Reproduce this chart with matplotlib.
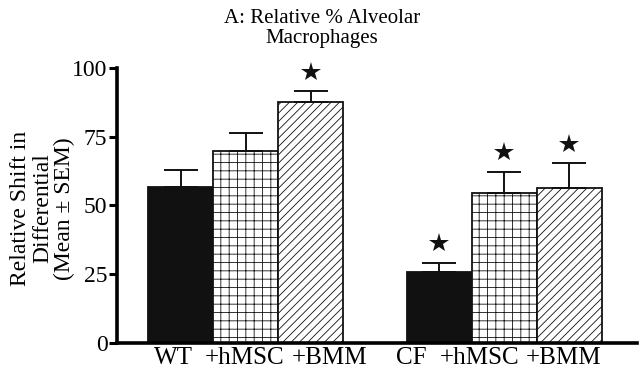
import matplotlib.pyplot as plt
import numpy as np

plt.rcParams['font.family'] = ['Liberation Serif', 'DejaVu Serif']
plt.rcParams['hatch.linewidth'] = 0.6

# Data
labels = ['WT', '+hMSC', '+BMM', 'CF', '+hMSC', '+BMM']
means = [56.7, 69.8, 87.6, 25.9, 54.4, 56.2]
sem = [6.3, 6.6, 4.0, 3.3, 7.9, 9.1]
significant = [False, False, True, True, True, True]
hatches = ['', '++', '////', '', '++', '////']
faces = ['#111111', 'white', 'white', '#111111', 'white', 'white']

# bar positions (two groups of three) and label shifts as in the original
xpos = np.array([0, 1, 2, 3.98, 4.98, 5.98])
label_shift = np.array([-0.11, -0.02, 0.29, -0.43, -0.38, -0.08])

fig = plt.figure(figsize=(6.4, 3.76), dpi=100)
ax = fig.add_axes([0.183, 0.088, 0.812, 0.731])

ax.bar(xpos, means, width=1.0, color=faces, edgecolor='#111111',
       linewidth=1.3, hatch=hatches)

# upper error bars only
ax.errorbar(xpos, means, yerr=[np.zeros(len(sem)), sem], fmt='none',
            ecolor='#111111', elinewidth=1.4, capsize=12, capthick=1.4)

# significance stars
for x, m, s, sig in zip(xpos, means, sem, significant):
    if sig:
        ax.plot(x, m + s + 7, marker='*', color='#111111', markersize=15,
                markeredgewidth=0, clip_on=False)

ax.set_xlim(-0.977, 7.02)
ax.set_ylim(0, 100)
ax.set_yticks([0, 25, 50, 75, 100])
ax.set_xticks(xpos + label_shift)
ax.set_xticklabels(labels, fontsize=18)
ax.tick_params(axis='x', length=0, pad=3)
ax.tick_params(axis='y', length=6, width=2.2, labelsize=17, pad=1)

for side in ['top', 'right']:
    ax.spines[side].set_visible(False)
ax.spines['left'].set_linewidth(2.6)
ax.spines['bottom'].set_linewidth(2.6)

ax.set_ylabel('Relative Shift in\nDifferential\n(Mean \u00b1 SEM)', fontsize=17,
              linespacing=1.05)
ax.yaxis.set_label_coords(-0.081, 0.49)
fig.text(0.503, 0.975, 'A: Relative % Alveolar\nMacrophages', fontsize=15,
         linespacing=1.05, ha='center', va='top')

plt.savefig('out.png', dpi=100)
